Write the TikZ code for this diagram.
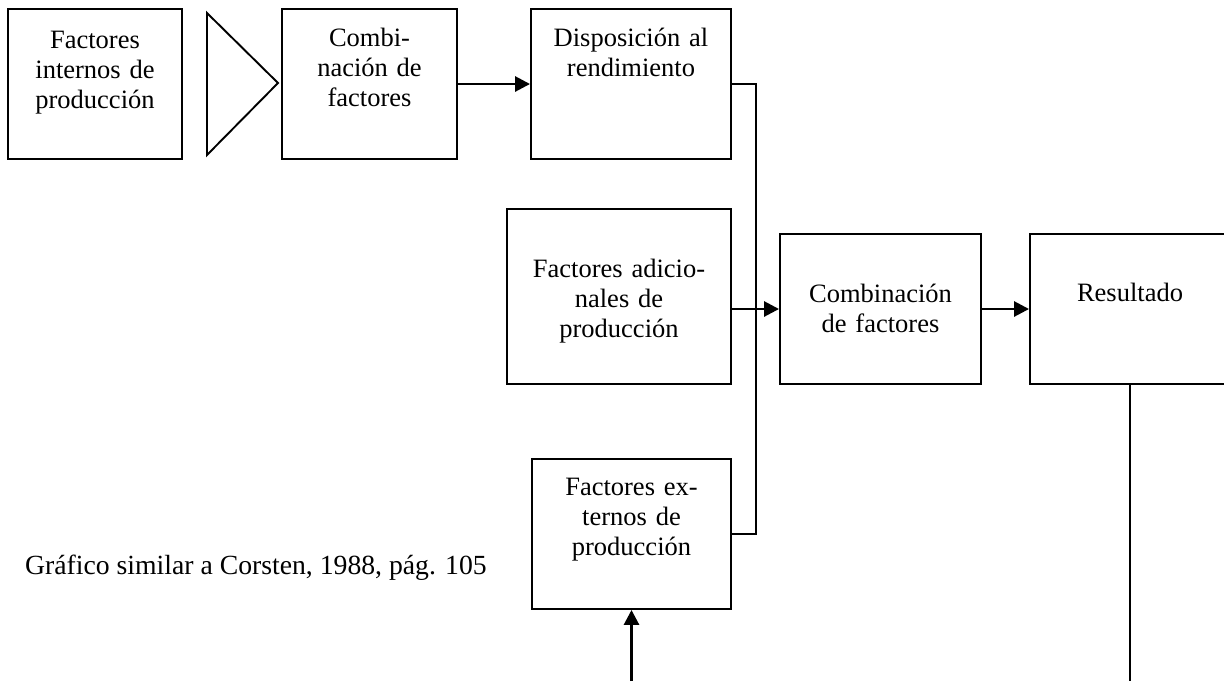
\documentclass[tikz,border=0pt]{standalone}
\usepackage{fontspec}
\setmainfont{Liberation Serif}
\usetikzlibrary{arrows.meta}
\tikzset{
  box/.style={draw=black, line width=1.9pt, rectangle, inner sep=0pt, fill=white},
  txt/.style={anchor=base, inner sep=0pt, align=center, font=\fontsize{26.5}{30}\selectfont},
  conn/.style={line width=2.8pt, draw=black},
  arr/.style={conn, -{Triangle[length=15pt,width=15pt]}}
}
\begin{document}
\begin{tikzpicture}[x=1pt,y=-1pt]
\useasboundingbox (0,0) rectangle (1224,681);
% boxes
\node[box, minimum width=174pt, minimum height=150pt] (b1) at (95,84) {};
\node[box, minimum width=175pt, minimum height=150pt] (b2) at (369.5,84) {};
\node[box, minimum width=200pt, minimum height=150pt] (b3) at (631,84) {};
\node[box, minimum width=224pt, minimum height=175pt] (b4) at (619,296.5) {};
\node[box, minimum width=201pt, minimum height=150pt] (b5) at (880.5,309) {};
\node[box, minimum width=200pt, minimum height=150pt] (b6) at (1130,309) {};
\node[box, minimum width=199pt, minimum height=150pt] (b7) at (631.5,534) {};
% triangle
\draw[line width=1.9pt, line join=miter] (207,13) -- (278,83) -- (207,155) -- cycle;
% texts
\node[txt, text width=174pt] (t1) at (95,48) {Factores\\internos de\\producción};
\node[txt, text width=175pt] (t2) at (369.5,46) {Combi-\\nación de\\factores};
\node[txt, text width=200pt] (t3) at (631,46) {Disposición al\\rendimiento};
\node[txt, text width=224pt] (t4) at (619,277) {Factores adicio-\\nales de\\producción};
\node[txt, text width=201pt] (t5) at (880.5,302) {Combinación\\de factores};
\node[txt, text width=200pt] (t6) at (1130,301) {Resultado};
\node[txt, text width=199pt] (t7) at (631.5,495) {Factores ex-\\ternos de\\producción};
\node[anchor=base west, inner sep=0pt, font=\fontsize{27.7}{30}\selectfont] (cap) at (25,574) {Gráfico similar a Corsten, 1988, pág. 105};
% connectors
\coordinate (junc) at (756,310);
\coordinate (bot6) at (1130,681);
\coordinate (bot7) at (631.5,681);
\draw[arr] (b2.east) -- (b3.west);
\draw[conn] (b3.east) -| (junc) |- (b7.east);
\draw[arr] (b4.east |- b5.west) -- (b5.west);
\draw[arr] (b5.east) -- (b6.west);
\draw[conn] (b6.south) -- (bot6);
\draw[arr] (bot7) -- (b7.south);
\end{tikzpicture}
\end{document}
